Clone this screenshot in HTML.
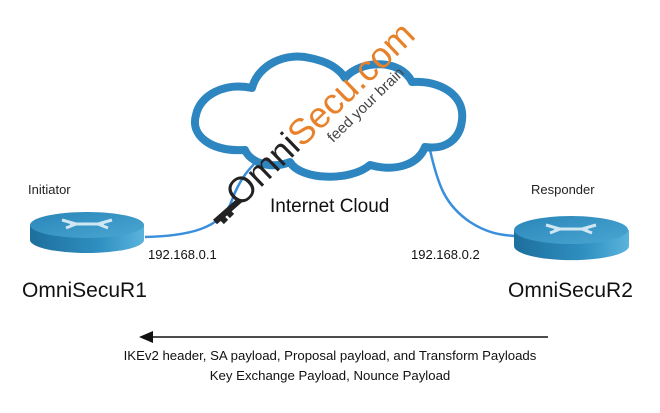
<!DOCTYPE html>
<html><head><meta charset="utf-8"><style>
body{margin:0;background:#fff;}
svg text{font-family:"Liberation Sans",Arial,sans-serif;}
</style></head><body>
<svg width="660" height="408" viewBox="0 0 660 408" xmlns="http://www.w3.org/2000/svg">
<defs>
<linearGradient id="side" x1="0" x2="1" y1="0" y2="0">
<stop offset="0" stop-color="#1d6f9c"/><stop offset="0.6" stop-color="#2f8fc0"/><stop offset="1" stop-color="#5ab3dc"/>
</linearGradient>
<linearGradient id="top" x1="0" x2="1" y1="0" y2="1">
<stop offset="0" stop-color="#2a86b8"/><stop offset="1" stop-color="#4aa6d2"/>
</linearGradient>
</defs>
<path d="M145,237 C185,236 222,230 232,200 C240,178 250,168 258,160" fill="none" stroke="#3a8fdc" stroke-width="2.5"/>
<path d="M430,150 C438,185 445,205 470,222 C490,235 505,235 515,236" fill="none" stroke="#3a8fdc" stroke-width="2.5"/>
<path d="M245,150 C210,152 190,135 196,115 C200,95 225,82 252,88 C258,65 285,52 310,58 C330,62 340,70 345,78 C360,60 400,58 412,82 C440,80 465,95 462,120 C460,140 445,150 425,147 C418,165 395,172 370,165 C350,182 300,180 290,162 C270,170 250,162 245,150 Z" fill="#fff" stroke="#2e86c1" stroke-width="8" stroke-linejoin="round"/>
<g transform="translate(240,208) rotate(-44)">
<text x="0" y="0" font-size="36" fill="#222">Omni</text>
<text x="86" y="0" font-size="36" fill="#e8822a">Secu.com</text>
<text x="112" y="18" font-size="15" fill="#444">feed your brain</text>
</g>
<path d="M240,200 L215,222 M220,216 l6,6 M226,210 l6,6" stroke="#222" stroke-width="6" fill="none"/>
<g>
<path d="M30,225 L30,240 A57,13 0 0 0 144,240 L144,225 Z" fill="url(#side)"/>
<ellipse cx="87" cy="225" rx="57" ry="13" fill="url(#top)"/>
<path d="M62,220 l14,4 -10,4 M112,220 l-14,4 10,4 M70,224 h34" stroke="#cfe6f3" stroke-width="3" fill="none"/>
</g>
<g>
<path d="M514,230 L514,246 A57,14 0 0 0 629,246 L629,230 Z" fill="url(#side)"/>
<ellipse cx="571" cy="230" rx="57" ry="14" fill="url(#top)"/>
<path d="M546,225 l14,4 -10,4 M596,225 l-14,4 10,4 M554,229 h34" stroke="#cfe6f3" stroke-width="3" fill="none"/>
</g>
<text x="28" y="194" font-size="13" fill="#222">Initiator</text>
<text x="531" y="194" font-size="13" fill="#222">Responder</text>
<text x="270" y="212" font-size="19" fill="#111">Internet Cloud</text>
<text x="148" y="259" font-size="13" fill="#111">192.168.0.1</text>
<text x="411" y="259" font-size="13" fill="#111">192.168.0.2</text>
<text x="22" y="297" font-size="21" fill="#111">OmniSecuR1</text>
<text x="508" y="297" font-size="21" fill="#111">OmniSecuR2</text>
<line x1="150" y1="337" x2="548" y2="337" stroke="#111" stroke-width="1.5"/>
<path d="M139,337 L153,331 L153,343 Z" fill="#111"/>
<text x="330" y="360" font-size="13.2" fill="#111" text-anchor="middle">IKEv2 header, SA payload, Proposal payload, and Transform Payloads</text>
<text x="330" y="380" font-size="13.2" fill="#111" text-anchor="middle">Key Exchange Payload, Nounce Payload</text>
</svg>
</body></html>
